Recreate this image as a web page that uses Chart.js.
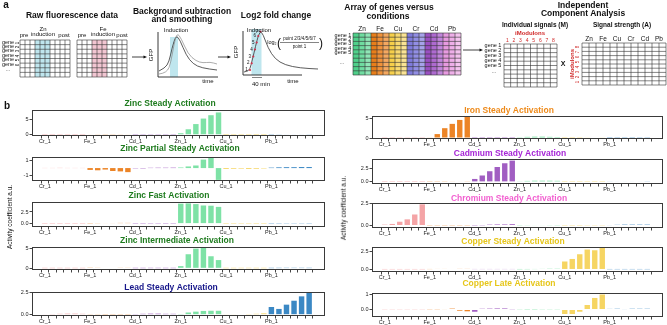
<!DOCTYPE html>
<html>
<head>
<meta charset="utf-8">
<script src="https://cdn.jsdelivr.net/npm/chart.js@4.4.1/dist/chart.umd.min.js"></script>
<style>
  body { margin: 0; background: #fff; }
  #fig { position: relative; width: 667px; height: 325px; overflow: hidden; font-family: 'Liberation Sans', Arial, sans-serif; }
  .t { position: absolute; white-space: nowrap; line-height: 1; color: #111; transform: translate(-50%, -50%); }
  .c { position: absolute; }
</style>
</head>
<body>
<div id="fig">
  <canvas id="sketch" class="c" width="667" height="95" style="left:0;top:0"></canvas>
</div>
<script>
// conditions (6 time points each) and bar colours
const categories = ['Cr', 'Fe', 'Cd', 'Zn', 'Cu', 'Pb'];
const barColors = ['#f4a4a6', '#ec8426', '#a15ec2', '#7ee2a6', '#f6d563', '#3b88c4'];
const xTickLabels = categories.map(c => c + '_1');

// activity coefficients, one value per condition time point
const zincSteady = [
  0.03, 0.03, 0.04, 0.04, 0.03, 0.03,
  0.15, 0.2, 0.22, 0.22, 0.2, 0.18,
  0.06, 0.07, 0.08, 0.08, 0.07, 0.06,
  0.5, 1.8, 3.5, 5.3, 6.4, 7.3,
  0.02, 0.03, 0.03, 0.03, 0.02, 0.02,
  0.08, 0.12, 0.15, 0.15, 0.15, 0.12
];
const zincPartialSteady = [
  0.02, 0.02, 0.03, 0.02, 0.02, 0.02,
  -0.25, -0.3, -0.2, -0.4, -0.45, -0.55,
  -0.04, -0.05, 0.04, 0.05, 0.05, 0.06,
  0.08, 0.22, 0.35, 1.15, 1.6, -1.6,
  -0.12, -0.1, -0.08, -0.12, -0.1, -0.06,
  0.06, 0.1, 0.12, 0.12, 0.14, 0.14
];
const zincFast = [
  0.02, 0.02, 0.02, 0.02, 0.02, 0.02,
  0.05, 0.08, 0.1, 0.12, 0.15, 0.15,
  0.03, 0.03, 0.04, 0.04, 0.03, 0.03,
  4.3, 4.35, 4.2, 3.9, 3.85, 3.6,
  0.02, 0.02, 0.03, 0.03, 0.02, 0.02,
  0.04, 0.05, 0.06, 0.06, 0.06, 0.05
];
const zincIntermediate = [
  0.02, 0.02, 0.02, 0.02, 0.02, 0.02,
  0.08, 0.1, 0.12, 0.12, 0.1, 0.1,
  0.03, 0.03, 0.04, 0.04, 0.03, 0.03,
  0.55, 3.5, 4.9, 5.3, 3.0, 2.05,
  0.02, 0.02, 0.03, 0.03, 0.02, 0.02,
  0.04, 0.05, 0.06, 0.06, 0.06, 0.05
];
const leadSteady = [
  0.05, 0.08, 0.1, 0.12, 0.12, 0.1,
  0.04, 0.04, 0.03, 0.03, 0.03, 0.03,
  0.08, 0.1, 0.12, 0.12, 0.1, 0.1,
  0.03, 0.25, 0.35, 0.43, 0.45, 0.45,
  0.05, 0.05, 0.06, 0.08, 0.1, 0.15,
  0.88, 0.66, 1.15, 1.6, 2.1, 2.5
];
const ironSteady = [
  0.04, 0.05, 0.05, 0.06, 0.05, 0.05,
  0.15, 1.0, 2.5, 3.6, 4.6, 5.4,
  0.03, 0.03, 0.03, 0.03, 0.03, 0.03,
  0.2, 0.3, 0.35, 0.35, 0.3, 0.25,
  0.03, 0.03, 0.05, 0.1, 0.12, 0.1,
  0.04, 0.05, 0.05, 0.05, 0.06, 0.06
];
const cadmiumSteady = [
  0.02, 0.02, 0.02, 0.02, 0.02, 0.02,
  0.05, 0.05, 0.06, 0.08, 0.1, 0.12,
  0.55, 1.2, 2.0, 2.8, 3.5, 4.0,
  0.12, 0.18, 0.22, 0.22, 0.22, 0.2,
  0.03, 0.03, 0.03, 0.03, 0.03, 0.03,
  0.08, 0.1, 0.1, 0.1, 0.1, 0.12
];
const chromiumSteady = [
  0.1, 0.18, 0.43, 0.7, 1.25, 2.4,
  0.03, 0.03, 0.03, 0.03, 0.03, 0.03,
  0.02, 0.03, 0.1, 0.12, 0.12, 0.15,
  0.03, 0.04, 0.05, 0.05, 0.04, 0.03,
  0.02, 0.02, 0.02, 0.03, 0.03, 0.03,
  0.05, 0.08, 0.1, 0.1, 0.1, 0.1
];
const copperSteady = [
  0.02, 0.02, 0.02, 0.02, 0.02, 0.02,
  0.05, 0.06, 0.06, 0.07, 0.08, 0.08,
  0.05, 0.05, 0.05, 0.05, 0.05, 0.05,
  0.02, 0.03, 0.05, 0.08, 0.1, 0.1,
  1.1, 1.45, 2.1, 2.75, 2.65, 3.0,
  0.03, 0.03, 0.03, 0.03, 0.03, 0.03
];
const copperLate = [
  0.02, 0.02, 0.02, 0.02, 0.02, 0.02,
  0.02, 0.02, 0.03, 0.06, -0.08, -0.12,
  -0.15, 0.05, 0.06, 0.07, 0.07, 0.02,
  0.02, 0.01, 0.01, 0.02, 0.02, 0.02,
  -0.3, -0.3, -0.15, 0.3, 0.77, 1.0,
  0.04, 0.05, 0.03, 0.05, 0.05, 0.05
];

const panelValues = [zincSteady, zincPartialSteady, zincFast, zincIntermediate, leadSteady,
                     ironSteady, cadmiumSteady, chromiumSteady, copperSteady, copperLate];
const panelTitles = ['Zinc Steady Activation', 'Zinc Partial Steady Activation', 'Zinc Fast Activation',
                     'Zinc Intermediate Activation', 'Lead Steady Activation',
                     'Iron Steady Activation', 'Cadmium Steady Activation', 'Chromium Steady Activation',
                     'Copper Steady Activation', 'Copper Late Activation'];
const titleColors = ['#1e7b1e', '#1e7b1e', '#1e7b1e', '#1e7b1e', '#16168a',
                     '#ee8a1a', '#a626d6', '#f25fd0', '#e6c61a', '#e6c61a'];
const yRanges = [[-0.4, 8.1], [-1.75, 1.5], [-0.73, 4.65], [-0.42, 5.3], [-0.15, 2.6],
                 [-0.25, 5.6], [-0.4, 4.3], [-0.28, 2.55], [-0.35, 3.1], [-0.5, 1.1]];
const yTicks = [[0, 5], [-1, 1], [0, 2.5], [0, 5], [0, 2.5],
                [0, 5], [0, 2.5], [0, 2.5], [0, 2.5], [0, 1]];
const yTickLabels = [['0', '5'], ['-1', '1'], ['0.0', '2.5'], ['0', '5'], ['0.0', '2.5'],
                     ['0', '5'], ['0.0', '2.5'], ['0.0', '2.5'], ['0.0', '2.5'], ['0.0', '1']];

// layout of the 10 small panels (pixels)
const colLeft = [0, 340];
const colWidth = [330, 327];
const colPadRight = [5, 4];
const frameTop = [110, 157, 202, 247, 292, 116, 159, 203, 247, 293];
const frameBottom = [136, 181, 227, 270, 316, 139, 184, 228, 272, 317];
const titleY = [104, 149, 196, 241, 288, 111, 154, 199, 242, 284];
const titleX = [170, 180, 169, 177, 171, 509, 510, 509, 513, 509];

Chart.defaults.font.family = "'Liberation Sans', Arial, sans-serif";

const fig = document.getElementById('fig');

const framePlugin = {
  id: 'frame',
  afterDatasetsDraw(chart, args, opts) {
    const a = chart.chartArea, ctx = chart.ctx;
    ctx.save();
    ctx.strokeStyle = '#3a3a3a';
    ctx.lineWidth = 1;
    ctx.strokeRect(Math.round(a.left) + 0.5, Math.round(a.top) + 0.5,
                   Math.round(a.right - a.left) - 1, Math.round(a.bottom - a.top) - 1);
    ctx.fillStyle = opts.color;
    ctx.font = "bold 8.5px 'Liberation Sans', Arial, sans-serif";
    ctx.textAlign = 'center';
    ctx.textBaseline = 'middle';
    ctx.fillText(opts.text, opts.x, a.top - opts.gap);
    ctx.restore();
  }
};

panelValues.forEach((values, k) => {
  const col = k < 5 ? 0 : 1;
  const top = frameTop[k] - 16;
  const h = frameBottom[k] - top + 11;
  const cv = document.createElement('canvas');
  cv.className = 'c';
  cv.width = colWidth[col];
  cv.height = h;
  cv.style.left = colLeft[col] + 'px';
  cv.style.top = top + 'px';
  fig.appendChild(cv);

  new Chart(cv, {
    type: 'bar',
    data: {
      datasets: [{
        data: values.map((v, i) => ({ x: i, y: v })),
        backgroundColor: values.map((v, i) => barColors[Math.floor(i / 6)]),
        borderWidth: 0,
        barPercentage: 0.72,
        categoryPercentage: 1
      }]
    },
    options: {
      responsive: false,
      animation: false,
      layout: { padding: { top: 16, right: colPadRight[col], left: 0, bottom: 0 } },
      plugins: {
        legend: { display: false },
        tooltip: { enabled: false },
        frame: { text: panelTitles[k], color: titleColors[k], x: titleX[k] - colLeft[col], gap: frameTop[k] - titleY[k] }
      },
      scales: {
        x: {
          type: 'linear',
          min: -1.7,
          max: 37.1,
          offset: false,
          bounds: 'data',
          afterBuildTicks: s => { s.ticks = values.map((v, i) => ({ value: i })); },
          afterFit: s => { s.height = 11; },
          ticks: {
            autoSkip: false,
            maxRotation: 0,
            padding: 0,
            color: '#222',
            font: { size: 5.5 },
            callback: v => (v % 6 === 0 ? xTickLabels[v / 6] : '')
          },
          grid: { drawOnChartArea: false, tickLength: 2.5, color: '#444' },
          border: { display: false }
        },
        y: {
          min: yRanges[k][0],
          max: yRanges[k][1],
          afterBuildTicks: s => { s.ticks = yTicks[k].map(v => ({ value: v })); },
          afterFit: s => { s.width = 32; },
          ticks: {
            padding: 1,
            color: '#222',
            font: { size: 5.5 },
            callback: (v, i) => yTickLabels[k][i]
          },
          grid: { drawOnChartArea: false, tickLength: 2.5, color: '#444' },
          border: { display: false }
        }
      }
    },
    plugins: [framePlugin]
  });
});

// ---------- panel a: schematic ----------
function T(str, x, y, o = {}) {
  const d = document.createElement('div');
  d.className = 't';
  d.textContent = str;
  d.style.left = x + 'px';
  d.style.top = y + 'px';
  d.style.fontSize = (o.s || 6) + 'px';
  if (o.b) d.style.fontWeight = 'bold';
  if (o.c) d.style.color = o.c;
  if (o.r) d.style.transform = 'translate(-50%, -50%) rotate(-90deg)';
  fig.appendChild(d);
}

const sk = document.getElementById('sketch').getContext('2d');

function grid(x, y, w, h, cols, rows, fill) {
  const cw = w / cols, rh = h / rows;
  for (let c = 0; c < cols; c++) {
    const f = fill ? fill(c) : null;
    if (f) { sk.fillStyle = f; sk.fillRect(x + c * cw, y, cw, h); }
  }
  sk.strokeStyle = '#333';
  sk.lineWidth = 0.6;
  sk.beginPath();
  for (let c = 0; c <= cols; c++) { sk.moveTo(x + c * cw, y); sk.lineTo(x + c * cw, y + h); }
  for (let r = 0; r <= rows; r++) { sk.moveTo(x, y + r * rh); sk.lineTo(x + w, y + r * rh); }
  sk.stroke();
}

function curve(pts, color, lw) {
  sk.strokeStyle = color;
  sk.lineWidth = lw;
  sk.beginPath();
  sk.moveTo(pts[0][0], pts[0][1]);
  for (let i = 1; i < pts.length - 1; i++) {
    const mx = (pts[i][0] + pts[i + 1][0]) / 2, my = (pts[i][1] + pts[i + 1][1]) / 2;
    sk.quadraticCurveTo(pts[i][0], pts[i][1], mx, my);
  }
  const l = pts[pts.length - 1];
  sk.lineTo(l[0], l[1]);
  sk.stroke();
}

function arrow(x1, x2, y) {
  sk.strokeStyle = '#111';
  sk.fillStyle = '#111';
  sk.lineWidth = 0.8;
  sk.beginPath(); sk.moveTo(x1, y); sk.lineTo(x2 - 3, y); sk.stroke();
  sk.beginPath(); sk.moveTo(x2, y); sk.lineTo(x2 - 3.5, y - 1.6); sk.lineTo(x2 - 3.5, y + 1.6); sk.closePath(); sk.fill();
}

function axes(x0, yTop, y0, xEnd) {
  sk.strokeStyle = '#222';
  sk.lineWidth = 0.9;
  sk.beginPath(); sk.moveTo(x0, yTop); sk.lineTo(x0, y0); sk.lineTo(xEnd, y0); sk.stroke();
}

// raw fluorescence grids
grid(20, 40, 50, 37, 10, 8, c => (c >= 3 && c <= 5 ? '#bfe6ee' : null));
grid(77, 40, 50, 37, 10, 8, c => (c >= 3 && c <= 5 ? '#f2c6d2' : null));
arrow(132, 147, 57);

// smoothing plot
sk.fillStyle = '#bfe6ee';
sk.fillRect(170, 37, 8, 40);
axes(158, 32, 77, 218);
curve([[159, 71], [165, 68], [169, 62], [172, 48], [176, 35], [180, 40], [186, 55], [193, 64], [202, 68], [217, 70]], '#333', 0.8);
curve([[159, 74], [167, 73], [171, 62], [174, 44], [177, 33], [181, 38], [188, 54], [196, 61], [203, 63], [210, 62], [217, 64]], '#888', 0.7);
arrow(218, 231, 57);

// log2 fold change plot
sk.fillStyle = '#bfe6ee';
sk.fillRect(251.5, 29, 10, 46);
axes(243, 31, 75, 302);
curve([[244, 72], [249, 71.5], [251, 65], [254, 53], [257, 40], [260, 31], [263, 34], [268, 48], [275, 59], [285, 65], [300, 68], [318, 69]], '#333', 0.8);
const redPts = [[250, 70], [251.7, 63.3], [253.3, 56.5], [255, 49.5], [256.7, 42.5], [258.3, 36], [260.5, 31.5]];
sk.fillStyle = '#d0304a';
redPts.forEach(p => { sk.beginPath(); sk.arc(p[0], p[1], 1.1, 0, Math.PI * 2); sk.fill(); });
sk.strokeStyle = '#333'; sk.lineWidth = 0.6;
sk.beginPath(); sk.moveTo(252, 77.5); sk.lineTo(262, 77.5); sk.stroke();
sk.beginPath(); sk.moveTo(280, 42.5); sk.lineTo(319, 42.5); sk.stroke();

// gene x condition array
const heatCols = ['#4fd08a', '#6fdca0', '#8fe6b6', '#e87e1a', '#f0923a', '#f4a860',
                  '#f6cf4a', '#f8da70', '#fae394', '#7f7bdc', '#928ee4', '#a6a2ea',
                  '#9a4fc2', '#ae6ad0', '#c286dc', '#e79ae0', '#eeaee8', '#f4c3ee'];
grid(353, 33, 108, 42, 18, 10, c => heatCols[c]);
arrow(463, 483, 50);

// ICA matrices
grid(504, 44, 53, 43, 8, 10, null);
grid(582, 43, 84, 42, 12, 10, null);

// text of panel a
T('a', 6, 5, { b: 1, s: 10 });
T('b', 7, 106, { b: 1, s: 10 });
T('Raw fluorescence data', 72, 15, { b: 1, s: 8.5 });
T('pre', 24, 34.5); T('Zn', 43, 28.5); T('induction', 43, 34); T('post', 64, 34.5);
T('pre', 82, 34.5); T('Fe', 103, 28.5); T('induction', 103, 34); T('post', 122, 34.5);
['gene', 'gene', 'gene', 'gene', 'gene', 'gene'].forEach((g, i) => {
  T(g, 8, 42.5 + i * 4.4, { s: 5.5 });
  T(String(i + 1), 18, 42.5 + i * 4.4, { s: 4.5, r: 1 });
});
T('...', 8, 69, { s: 5 });
T('Background subtraction', 182, 10.5, { b: 1, s: 8.5 });
T('and smoothing', 182, 18.5, { b: 1, s: 8.5 });
T('Induction', 176, 29.5);
T('GFP', 151, 55, { s: 6, r: 1 });
T('time', 208, 81);
T('Log2 fold change', 276, 15, { b: 1, s: 8.5 });
T('Induction', 259, 30);
T('GFP', 236, 52, { s: 6, r: 1 });
['1', '2', '3', '4', '5', '6', '7'].forEach((n, i) => T(n, redPts[i][0] - 3.5, redPts[i][1], { s: 4.5 }));
T('40 min', 261, 83.5, { s: 6 });
T('time', 293, 80.5);
T('log', 271, 43, { s: 5.5 });
T('2', 275.5, 45, { s: 3.5 });
T('(', 279, 42.5, { s: 12 });
T('point 2/3/4/5/6/7', 299.5, 38.5, { s: 4.5 });
T('point 1', 299.5, 46.5, { s: 4.5 });
T(')', 321, 42.5, { s: 12 });
T('Array of genes versus', 389, 7, { b: 1, s: 8.5 });
T('conditions', 388, 15.5, { b: 1, s: 8.5 });
categories.slice().sort((a, b) => 0).forEach(() => {});
['Zn', 'Fe', 'Cu', 'Cr', 'Cd', 'Pb'].forEach((m, i) => T(m, 362 + i * 18, 28.5, { s: 6.5 }));
for (let i = 0; i < 5; i++) T('gene ' + (i + 1), 343, 35.5 + i * 4.4, { s: 5.5 });
T('...', 342, 62, { s: 5 });
T('Independent', 583, 4.5, { b: 1, s: 8.5 });
T('Component Analysis', 583, 12.5, { b: 1, s: 8.5 });
T('Individual signals (M)', 535, 24.5, { b: 1, s: 6.5 });
T('iModulons', 530, 33, { b: 1, s: 6, c: '#d02828' });
for (let i = 0; i < 8; i++) T(String(i + 1), 507.3 + i * 6.6, 40, { s: 5, c: '#d02828' });
for (let i = 0; i < 5; i++) T('gene ' + (i + 1), 493, 46 + i * 5, { s: 5.5 });
T('...', 494, 71, { s: 5 });
T('X', 563, 63, { b: 1, s: 7 });
T('Signal strength (A)', 622, 24.5, { b: 1, s: 6.5 });
['Zn', 'Fe', 'Cu', 'Cr', 'Cd', 'Pb'].forEach((m, i) => T(m, 589 + i * 14, 39, { s: 6.5 }));
T('iModulons', 572, 64, { b: 1, s: 6, c: '#d02828', r: 1 });
for (let i = 0; i < 8; i++) T(String(i + 1), 577.5, 82 - i * 5, { s: 4.5, c: '#d02828', r: 1 });

// shared y axis titles
T('Activity  coefficient a.u.', 10, 217, { s: 6.5, r: 1 });
T('Activity  coefficient a.u.', 344, 208, { s: 6.5, r: 1 });
</script>
</body>
</html>
